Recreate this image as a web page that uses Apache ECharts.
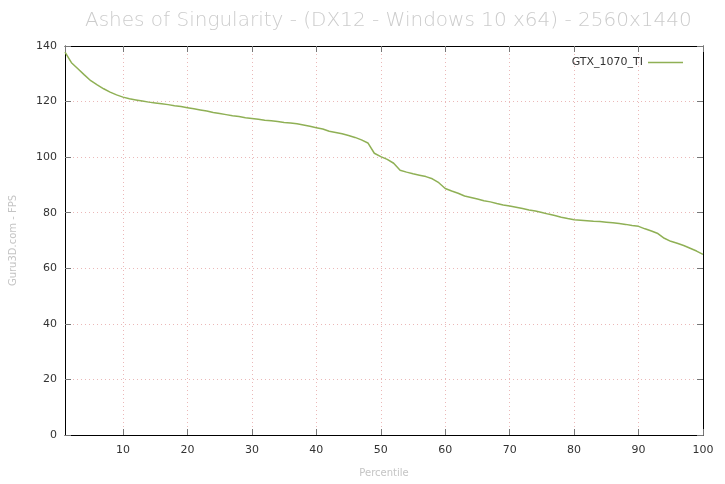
<!DOCTYPE html>
<html>
<head>
<meta charset="utf-8">
<script src="https://cdn.jsdelivr.net/npm/echarts@6/dist/echarts.min.js"></script>
<style>html,body{margin:0;padding:0;background:#fff}#c{width:725px;height:484px}</style>
</head>
<body>
<div id="c"></div>
<script>
const titleText = 'Ashes of Singularity - (DX12 - Windows 10 x64) - 2560x1440';
const seriesName = 'GTX_1070_TI';
const xAxisName = 'Percentile';
const yAxisName = 'Guru3D.com - FPS';
const percentiles = [1,2,3,4,5,6,7,8,9,10,11,12,13,14,15,16,17,18,19,20,21,22,23,24,25,26,27,28,29,30,31,32,33,34,35,36,37,38,39,40,41,42,43,44,45,46,47,48,49,50,51,52,53,54,55,56,57,58,59,60,61,62,63,64,65,66,67,68,69,70,71,72,73,74,75,76,77,78,79,80,81,82,83,84,85,86,87,88,89,90,91,92,93,94,95,96,97,98,99,100];
const fps = [137.8,134,131.8,129.6,127.5,126,124.6,123.4,122.4,121.6,
  121,120.6,120.2,119.8,119.5,119.2,118.9,118.5,118.2,117.8,
  117.4,117,116.6,116.1,115.7,115.3,114.9,114.6,114.2,113.9,
  113.6,113.3,113.1,112.8,112.5,112.3,112,111.6,111.1,110.6,
  110.1,109.3,108.9,108.4,107.8,107.1,106.2,105.1,101.4,100.2,
  99.2,97.8,95.3,94.6,94,93.5,93,92.2,90.8,88.7,
  87.8,87,86,85.5,84.9,84.3,83.9,83.3,82.8,82.4,
  82,81.5,81,80.6,80.1,79.5,79,78.4,77.9,77.5,
  77.3,77.1,76.9,76.8,76.6,76.4,76.1,75.8,75.4,75.1,
  74.2,73.4,72.5,70.8,69.7,69,68.2,67.2,66.2,65];
const xMin = 1, xMax = 100, xStep = 10;
const yMin = 0, yMax = 140, yStep = 20;

const lineColor = '#8fb055';
const gridColor = '#ebb8b8';
const font = 'DejaVu Sans';

const chart = echarts.init(document.getElementById('c'), null, {renderer: 'canvas'});
const gridLine = {show: true, lineStyle: {color: gridColor, type: [1, 3], width: 1}};
const frameLine = {show: true, onZero: false, lineStyle: {color: '#000', width: 1}};
const inTick = {show: true, inside: true, length: 6, lineStyle: {color: '#777', width: 1}};

chart.setOption({
  backgroundColor: '#fff',
  animation: false,
  title: {
    text: titleText,
    left: 80, top: 6,
    textStyle: {fontFamily: font, fontSize: 20, fontWeight: 'lighter', color: '#cccccc'}
  },
  legend: {
    data: [{name: seriesName, icon: 'rect'}],
    right: 37, top: 52,
    align: 'right',
    itemWidth: 35, itemHeight: 1.5,
    textStyle: {fontFamily: font, fontSize: 11, color: '#333'}
  },
  grid: {left: 63, right: 22, top: 46, bottom: 49, containLabel: false},
  xAxis: [{
    type: 'value', min: xMin, max: xMax, minInterval: xStep, maxInterval: xStep, splitNumber: 10,
    position: 'bottom',
    name: xAxisName, nameLocation: 'middle', nameGap: 33,
    nameTextStyle: {fontFamily: font, fontSize: 10, color: '#c4c4c4'},
    axisLine: frameLine, axisTick: inTick, splitLine: gridLine,
    axisLabel: {showMinLabel: false, fontFamily: font, fontSize: 11, color: '#333', margin: 10}
  }, {
    type: 'value', min: xMin, max: xMax, minInterval: xStep, maxInterval: xStep, splitNumber: 10,
    position: 'top',
    axisLine: frameLine, axisTick: inTick, splitLine: {show: false},
    axisLabel: {show: false}
  }],
  yAxis: [{
    type: 'value', min: yMin, max: yMax, interval: yStep,
    position: 'left',
    name: yAxisName, nameLocation: 'middle', nameGap: 47, nameRotate: 90,
    nameTextStyle: {fontFamily: font, fontSize: 10, color: '#c4c4c4'},
    axisLine: frameLine, axisTick: inTick, splitLine: gridLine,
    axisLabel: {fontFamily: font, fontSize: 11, color: '#333', margin: 8}
  }, {
    type: 'value', min: yMin, max: yMax, interval: yStep,
    position: 'right',
    axisLine: frameLine, axisTick: inTick, splitLine: {show: false},
    axisLabel: {show: false}
  }],
  series: [{
    name: seriesName,
    type: 'line',
    xAxisIndex: 0, yAxisIndex: 0,
    data: percentiles.map((p, i) => [p, fps[i]]),
    symbol: 'none',
    smooth: false,
    color: lineColor,
    lineStyle: {color: lineColor, width: 1.5}
  }]
});
</script>
</body>
</html>
